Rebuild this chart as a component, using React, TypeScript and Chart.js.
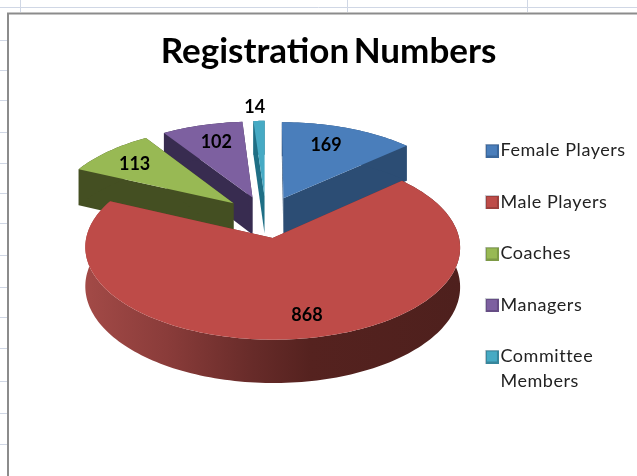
import React, { useEffect, useRef } from "react";
import { Chart, registerables } from "chart.js";

Chart.register(...registerables);

const categories = ["Female Players", "Male Players", "Coaches", "Managers", ["Committee", "Members"]];
const values = [169, 868, 113, 102, 14];
const topColors = ["#4a7ebb", "#be4b48", "#98b954", "#7d60a0", "#46aac4"];
const borderColors = ["#3a679c", "#9c3f3c", "#7d9a45", "#664d85", "#37869c"];
const wallColors = ["#2c4d74", "#7a2f2d", "#444f22", "#382c50", "#1f6f85"];
const labelRadii = [0.73, 0.8, 0.76, 0.74, 1.2];
const labelTurns = [-3, -3.5, -1.5, 1, -1];
const paintOrder = [4, 3, 0, 2, 1];

const gridRows = [40, 70, 100, 132, 163, 193, 223, 255, 287, 317, 348, 381, 413, 444];
const gridCols = [20, 347, 527];

// Perspective of the tilted disc
const CX = 266, CY = 216.8, A = 182, B = 87, K = 0.1, DEPTH = 38, EXPLODE = 0.24;

const project = (X: number, Y: number, z = 0) => {
  const w = 1 - K * Y;
  return { x: CX + (A * X) / w, y: CY + (B * Y) / w + (z * DEPTH) / w };
};

const swatch = (i: number) => {
  const c = document.createElement("canvas");
  c.width = 18;
  c.height = 14;
  const g = c.getContext("2d") as CanvasRenderingContext2D;
  g.fillStyle = "#c9ccd2";
  g.fillRect(4, 0, 14, 14);
  g.fillStyle = borderColors[i];
  g.fillRect(5, 1, 13, 13);
  g.fillStyle = topColors[i];
  g.fillRect(6, 2, 10, 10);
  return c;
};

const pie3d = {
  id: "pie3d",
  afterLayout(chart: any) {
    const tb = chart.titleBlock;
    const lg = chart.legend;
    if (tb && !tb.__spaced) {
      const d = tb.draw;
      tb.draw = function (...a: any[]) {
        const ctx = chart.ctx;
        ctx.save();
        ctx.wordSpacing = "-4px";
        d.apply(tb, a);
        ctx.restore();
      };
      tb.__spaced = true;
    }
    if (lg && !lg.__spaced) {
      const d = lg.draw;
      lg.draw = function (...a: any[]) {
        const ctx = chart.ctx;
        ctx.save();
        ctx.letterSpacing = "0.55px";
        d.apply(lg, a);
        ctx.restore();
      };
      lg.__spaced = true;
    }
  },
  beforeDraw(chart: any) {
    const { ctx, width, height } = chart;
    ctx.save();
    ctx.fillStyle = "#ffffff";
    ctx.fillRect(0, 0, width, height);
    ctx.strokeStyle = "#d0d7e5";
    ctx.lineWidth = 1;
    gridRows.forEach((y) => {
      ctx.beginPath();
      ctx.moveTo(0, y + 0.5);
      ctx.lineTo(7, y + 0.5);
      ctx.stroke();
    });
    gridCols.forEach((x) => {
      ctx.beginPath();
      ctx.moveTo(x + 0.5, 0);
      ctx.lineTo(x + 0.5, 12);
      ctx.stroke();
    });
    ctx.beginPath();
    ctx.moveTo(0, 7.5);
    ctx.lineTo(width, 7.5);
    ctx.stroke();
    ctx.strokeStyle = "#8c8c8c";
    ctx.lineWidth = 2;
    ctx.beginPath();
    ctx.moveTo(8, height);
    ctx.lineTo(8, 13.5);
    ctx.lineTo(width, 13.5);
    ctx.stroke();
    ctx.restore();
  },
  beforeDatasetsDraw(chart: any) {
    const { ctx } = chart;
    const arcs = chart.getDatasetMeta(0).data;
    const geom = arcs.map((arc: any) => {
      const s = arc.startAngle + Math.PI / 2;
      const e = arc.endAngle + Math.PI / 2;
      const m = (s + e) / 2;
      const ox = EXPLODE * Math.sin(m);
      const oy = -EXPLODE * Math.cos(m);
      const at = (t: number, r: number) => [ox + r * Math.sin(t), oy - r * Math.cos(t)];
      return { s, e, m, ox, oy, at };
    });
    paintOrder.forEach((i) => {
      const g = geom[i];
      const n = Math.max(8, Math.ceil((g.e - g.s) * 40));
      const rimPts: number[][] = [];
      for (let j = 0; j <= n; j++) rimPts.push(g.at(g.s + ((g.e - g.s) * j) / n, 1));
      const path = (pts: { x: number; y: number }[]) => {
        ctx.beginPath();
        pts.forEach((p, k) => (k ? ctx.lineTo(p.x, p.y) : ctx.moveTo(p.x, p.y)));
        ctx.closePath();
      };
      ctx.fillStyle = wallColors[i];
      [rimPts[0], rimPts[n]].forEach((c) => {
        path([
          project(g.ox, g.oy),
          project(c[0], c[1]),
          project(c[0], c[1], 1),
          project(g.ox, g.oy, 1),
        ]);
        ctx.fill();
      });
      let rimFill: any = wallColors[i];
      if (i === 1) {
        const gr = ctx.createLinearGradient(84, 0, 461, 0);
        gr.addColorStop(0, "#a34a47");
        gr.addColorStop(0.22, "#8a3c3a");
        gr.addColorStop(0.45, "#672b29");
        gr.addColorStop(0.6, "#55221f");
        gr.addColorStop(1, "#4e201d");
        rimFill = gr;
      }
      ctx.fillStyle = rimFill;
      path([
        ...rimPts.map((c) => project(c[0], c[1])),
        ...rimPts.slice().reverse().map((c) => project(c[0], c[1], 1)),
      ]);
      ctx.fill();
      ctx.fillStyle = topColors[i];
      path([project(g.ox, g.oy), ...rimPts.map((c) => project(c[0], c[1]))]);
      ctx.fill();
    });
    ctx.save();
    ctx.fillStyle = "#000000";
    ctx.font = "bold 18px Lato";
    ctx.textAlign = "center";
    ctx.textBaseline = "middle";
    geom.forEach((g: any, i: number) => {
      const c = g.at(g.m + (labelTurns[i] * Math.PI) / 180, labelRadii[i]);
      const p = project(c[0], c[1]);
      ctx.fillText(String(values[i]), p.x, p.y);
    });
    ctx.restore();
    return false;
  },
};

export default function App() {
  const ref = useRef<HTMLCanvasElement | null>(null);
  useEffect(() => {
    const chart = new Chart(ref.current as HTMLCanvasElement, {
      type: "pie",
      data: {
        labels: categories as any,
        datasets: [{ data: values, backgroundColor: topColors, borderColor: borderColors, borderWidth: 0 }],
      },
      options: {
        responsive: false,
        animation: false,
        layout: { padding: { left: 29, right: 9, top: 27, bottom: 0 } },
        plugins: {
          tooltip: { enabled: false },
          title: {
            display: true,
            text: "Registration Numbers",
            color: "#000000",
            font: { family: "Lato", size: 35, weight: "bold" },
            padding: { top: 4, bottom: 35 },
          },
          legend: {
            position: "right",
            align: "start",
            fullSize: false,
            labels: {
              boxWidth: 3,
              boxHeight: 13,
              usePointStyle: true,
              padding: 33.5,
              color: "#222222",
              font: { family: "Lato", size: 18, lineHeight: 1.39 },
              generateLabels: () =>
                categories.map((t, i) => ({
                  text: t as any,
                  pointStyle: swatch(i),
                  fillStyle: topColors[i],
                  strokeStyle: borderColors[i],
                  lineWidth: 0,
                  index: i,
                  fontColor: "#222222",
                })),
            },
          },
        },
      },
      plugins: [pie3d],
    } as any);
    return () => chart.destroy();
  }, []);
  return (
    <div style={{ position: "absolute", left: 0, top: 0, width: 637, height: 476 }}>
      <canvas ref={ref} width={637} height={476} style={{ display: "block" }} />
    </div>
  );
}
